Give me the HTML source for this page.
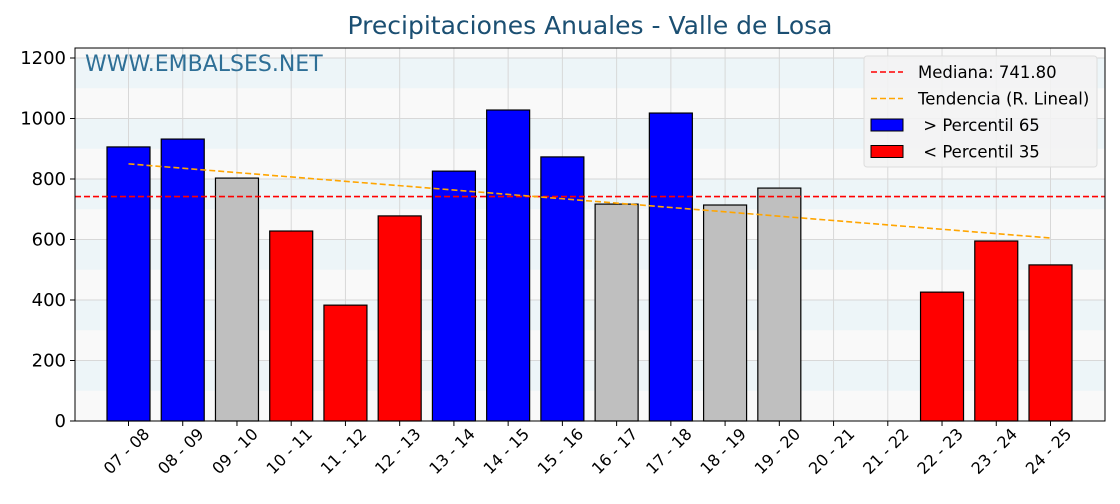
<!DOCTYPE html>
<html><head><meta charset="utf-8"><style>
body{margin:0;background:#fff;font-family:"DejaVu Sans","Liberation Sans",sans-serif}
</style></head><body>
<svg id="chart" width="1120" height="500" xmlns="http://www.w3.org/2000/svg" font-family="DejaVu Sans, Liberation Sans, sans-serif"></svg>
<script>
const categories=["07 - 08","08 - 09","09 - 10","10 - 11","11 - 12","12 - 13","13 - 14","14 - 15","15 - 16","16 - 17","17 - 18","18 - 19","19 - 20","20 - 21","21 - 22","22 - 23","23 - 24","24 - 25"];
const values=[906,932,803,628,383,678,826,1028,873,717,1018,714,770,0,0,426,595,516];
const colors=["blue","blue","#bfbfbf","red","red","red","blue","blue","blue","#bfbfbf","blue","#bfbfbf","#bfbfbf","red","red","red","red","red"];
const yTicks=[0,200,400,600,800,1000,1200];
const median=741.8;
const trend=[850,605];
const NS="http://www.w3.org/2000/svg";
const svg=document.getElementById('chart');
const L=75,R=1105,T=48,B=421,ymax=1200*(421-48)/(421-58);
const y=v=>B-(v/ymax)*(B-T);
const x0=128.5,step=(1050.5-128.5)/17,bw=43;
const x=i=>x0+i*step;
function mk(t,a,p){const e=document.createElementNS(NS,t);for(const k in a)e.setAttribute(k,a[k]);(p||svg).appendChild(e);return e;}
const bg=mk('rect',{x:L,y:T,width:R-L,height:B-T,fill:'#f9f9f9'});

for(let h=100;h<1300;h+=200){const top=Math.max(T,y(h+100));const b=mk('rect',{x:L,y:top,width:R-L,height:y(h)-top,fill:'#edf5f8'});
}
yTicks.forEach(v=>{const g=mk('line',{x1:L,x2:R,y1:y(v),y2:y(v),stroke:'#d8d8d8','stroke-width':1});
});
categories.forEach((c,i)=>{const g=mk('line',{x1:x(i),x2:x(i),y1:T,y2:B,stroke:'#d8d8d8','stroke-width':1});
});
const wm=mk('text',{x:85,y:71,fill:'#2e6f96','font-size':22});wm.textContent='WWW.EMBALSES.NET';

values.forEach((v,i)=>{const b=mk('rect',{x:x(i)-bw/2,y:y(v),width:bw,height:B-y(v),fill:colors[i],stroke:'#000','stroke-width':1.2});
});
const md=mk('line',{x1:L,x2:R,y1:y(median),y2:y(median),stroke:'red','stroke-width':1.6,'stroke-dasharray':'6,3'});

const tr=mk('line',{x1:x(0),x2:x(categories.length-1),y1:y(trend[0]),y2:y(trend[1]),stroke:'orange','stroke-width':1.6,'stroke-dasharray':'6,3'});

const fr=mk('rect',{x:L,y:T,width:R-L,height:B-T,fill:'none',stroke:'#000','stroke-width':1});

yTicks.forEach(v=>{mk('line',{x1:L-5,x2:L,y1:y(v),y2:y(v),stroke:'#000'});
const t=mk('text',{x:L-9,y:y(v)+6,'text-anchor':'end','font-size':18});t.textContent=v;
});
categories.forEach((c,i)=>{mk('line',{x1:x(i),x2:x(i),y1:B,y2:B+5,stroke:'#000'});
const ax=x(i)+22,ay=B+14;
const t=mk('text',{x:ax,y:ay,'text-anchor':'end','font-size':16,transform:`rotate(-45 ${ax} ${ay})`});t.textContent=c;
});
const ti=mk('text',{x:590,y:34,'text-anchor':'middle','font-size':25,fill:'#1b4f72'});ti.textContent='Precipitaciones Anuales - Valle de Losa';

const lg=mk('g',{});
mk('rect',{x:864,y:56,width:233,height:111,rx:3,fill:'#f3f3f3','fill-opacity':0.9,stroke:'#ddd'},lg);
const items=[['line','red','Mediana: 741.80'],['line','orange','Tendencia (R. Lineal)'],['rect','blue','\u00a0> Percentil 65'],['rect','red','\u00a0< Percentil 35']];
items.forEach((it,k)=>{const cy=72+k*26.5;
if(it[0]=='line')mk('line',{x1:871,x2:903,y1:cy,y2:cy,stroke:it[1],'stroke-width':1.6,'stroke-dasharray':'6,3'},lg);
else mk('rect',{x:871,y:cy-6,width:32,height:12,fill:it[1],stroke:'#000'},lg);
const t=mk('text',{x:918,y:cy+6,'font-size':16.5},lg);t.textContent=it[2];
});
</script>
</body></html>
